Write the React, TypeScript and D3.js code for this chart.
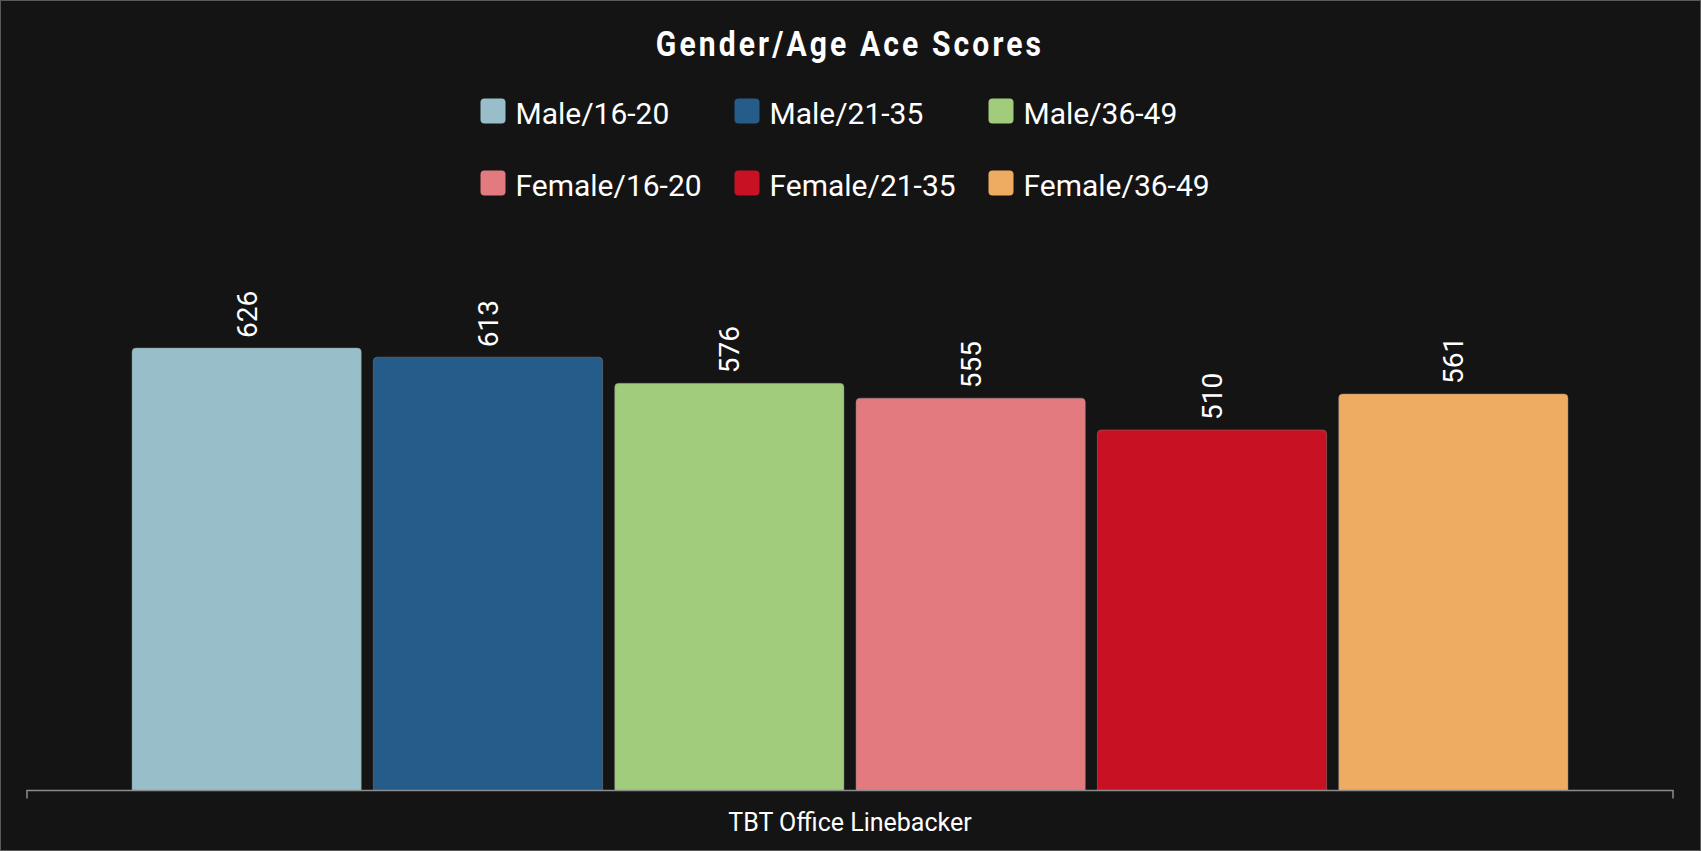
import React from "react";
import * as d3 from "d3";

const categories = ["TBT Office Linebacker"];
const seriesNames = ["Male/16-20", "Male/21-35", "Male/36-49", "Female/16-20", "Female/21-35", "Female/36-49"];
const seriesValues = [626, 613, 576, 555, 510, 561];
const seriesColors = ["#98bfc9", "#265c8a", "#a0cc7c", "#e27a7f", "#c81224", "#eeab62"];
const title = "Gender/Age Ace Scores";

const W = 1701;
const H = 851;

export default function App() {
  const plotLeft = 27;
  const plotRight = 1673;
  const plotBottom = 790.5;
  const plotTop = 225;

  const y = d3.scaleLinear().domain([0, 800]).range([plotBottom, plotTop]);
  const x0 = d3.scaleBand<string>().domain(categories).range([plotLeft, plotRight]).padding(0);
  const bw = x0.bandwidth();
  const groupPad = 0.0638;
  const x1 = d3
    .scaleBand<string>()
    .domain(seriesNames)
    .range([bw * groupPad, bw * (1 - groupPad)])
    .paddingInner(0.05)
    .paddingOuter(0);

  const r = 4;
  const barPath = (x: number, w: number, top: number, bottom: number) => {
    const p = d3.path();
    p.moveTo(x, bottom);
    p.lineTo(x, top + r);
    p.quadraticCurveTo(x, top, x + r, top);
    p.lineTo(x + w - r, top);
    p.quadraticCurveTo(x + w, top, x + w, top + r);
    p.lineTo(x + w, bottom);
    p.closePath();
    return p.toString();
  };

  const legendCols = 3;
  const legendX0 = 480.5;
  const legendColW = 254;
  const legendY0 = 98.5;
  const legendRowH = 72;

  return (
    <div style={{ position: "fixed", left: 0, top: 0 }}>
      <svg width={W} height={H} style={{ display: "block" }} fontFamily="Roboto, sans-serif">
        <rect x={0} y={0} width={W} height={H} fill="#141414" />
        <rect x={0.5} y={0.5} width={W - 1} height={H - 1} fill="none" stroke="#5a5a5a" strokeWidth={1} />

        <g transform="translate(850,56) scale(0.86,1)">
          <text x={0} y={0} textAnchor="middle" fill="#ffffff" fontSize={35} fontWeight="bold" letterSpacing={3.6}>
            {title}
          </text>
        </g>

        {seriesNames.map((name, i) => {
          const col = i % legendCols;
          const row = Math.floor(i / legendCols);
          const lx = legendX0 + col * legendColW;
          const ly = legendY0 + row * legendRowH;
          return (
            <g key={name}>
              <rect x={lx} y={ly} width={25} height={25} rx={4} fill={seriesColors[i]} />
              <text x={lx + 35} y={ly + 25} fill="#ffffff" fontSize={30}>
                {name}
              </text>
            </g>
          );
        })}

        {categories.map((cat) => (
          <g key={cat} transform={`translate(${x0(cat)},0)`}>
            {seriesNames.map((name, i) => {
              const bx = x1(name)!;
              const w = x1.bandwidth();
              const top = y(seriesValues[i]);
              const cx = bx + w / 2;
              return (
                <g key={name}>
                  <path
                    d={barPath(bx, w, top, y(0))}
                    fill={seriesColors[i]}
                    stroke="#8a8a8a"
                    strokeOpacity={0.45}
                    strokeWidth={1}
                  />
                  <text
                    transform={`translate(${cx},${top - 10}) rotate(-90)`}
                    dy="0.36em"
                    textAnchor="start"
                    fill="#ffffff"
                    fontSize={28}
                  >
                    {seriesValues[i]}
                  </text>
                </g>
              );
            })}
          </g>
        ))}

        <path
          d={`M${plotLeft},${plotBottom + 8}V${plotBottom}H${plotRight}V${plotBottom + 8}`}
          fill="none"
          stroke="#8c8c8c"
          strokeWidth={1.5}
        />
        {categories.map((cat) => (
          <text key={cat} x={x0(cat)! + bw / 2} y={831} textAnchor="middle" fill="#ffffff" fontSize={25}>
            {cat}
          </text>
        ))}
      </svg>
    </div>
  );
}
